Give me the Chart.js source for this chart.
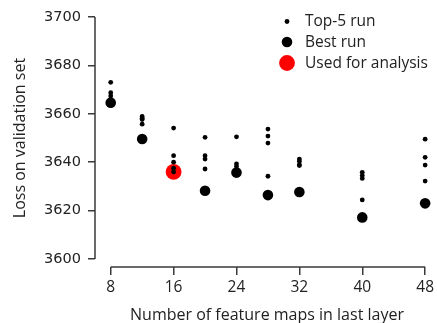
<!DOCTYPE html>
<html>
<head>
<meta charset="utf-8">
<script src="https://cdn.jsdelivr.net/npm/chart.js@4.4.1/dist/chart.umd.min.js"></script>
<style>
html,body{margin:0;padding:0;background:#fff;}
#wrap{width:437px;height:323px;}
</style>
</head>
<body>
<div id="wrap"><canvas id="c" width="437" height="323"></canvas></div>
<script>
// ---- data ----
const featureMaps = [8, 12, 16, 20, 24, 28, 32, 40, 48];
const top5Runs = [
  [3673.0, 3668.7, 3667.4, 3665.6, 3664.6],
  [3658.9, 3658.2, 3657.6, 3655.7, 3649.6],
  [3654.1, 3642.7, 3640.0, 3637.5, 3636.0],
  [3650.3, 3642.7, 3641.3, 3637.2, 3628.2],
  [3650.5, 3639.3, 3638.2, 3636.8, 3635.7],
  [3653.7, 3650.8, 3647.9, 3634.2, 3626.4],
  [3641.3, 3640.4, 3639.0, 3638.6, 3627.7],
  [3635.8, 3634.5, 3633.3, 3624.4, 3617.2],
  [3649.5, 3642.0, 3638.8, 3632.2, 3623.0]
];
const bestRun = [3664.6, 3649.6, null, 3628.2, 3635.7, 3626.4, 3627.7, 3617.2, 3623.0];
const usedMaps = [16];
const usedLoss = [3636.0];
const xTicks = [8, 16, 24, 32, 40, 48];
const yTicks = [3600, 3620, 3640, 3660, 3680, 3700];
const legendLabels = ['Top-5 run', 'Best run', 'Used for analysis'];
const xTitle = 'Number of feature maps in last layer';
const yTitle = 'Loss on validation set';

// ---- build datasets ----
const topPts = [];
featureMaps.forEach((f, i) => top5Runs[i].forEach(v => topPts.push({x: f, y: v})));
const bestPts = [];
featureMaps.forEach((f, i) => { if (bestRun[i] !== null) bestPts.push({x: f, y: bestRun[i]}); });
const usedPts = usedMaps.map((f, i) => ({x: f, y: usedLoss[i]}));

const axisColor = '#3a3a3a';
const textColor = '#222222';
const labelFont = '"Open Sans"';

const spines = {
  id: 'spines',
  afterDraw(chart) {
    const {ctx, scales: {x, y}} = chart;
    ctx.save();
    ctx.strokeStyle = axisColor;
    ctx.lineWidth = 1.5;
    ctx.beginPath();
    const xl = x.left;
    ctx.moveTo(xl, y.getPixelForValue(yTicks[yTicks.length - 1]));
    ctx.lineTo(xl, y.getPixelForValue(yTicks[0]));
    const yb = y.bottom;
    ctx.moveTo(x.getPixelForValue(xTicks[0]), yb);
    ctx.lineTo(x.getPixelForValue(xTicks[xTicks.length - 1]), yb);
    ctx.stroke();
    // axis titles
    ctx.fillStyle = textColor;
    ctx.font = '16px ' + labelFont;
    ctx.textAlign = 'center';
    ctx.textBaseline = 'alphabetic';
    ctx.fillText(xTitle, 267, 320);
    ctx.translate(25, 138);
    ctx.rotate(-Math.PI / 2);
    ctx.fillText(yTitle, 0, 0);
    ctx.restore();
  }
};

const legendPlugin = {
  id: 'customLegend',
  afterDraw(chart) {
    const ctx = chart.ctx;
    ctx.save();
    const rows = [21.5, 42, 63];
    const bases = [26, 47, 68];
    chart.data.datasets.forEach((ds, i) => {
      ctx.beginPath();
      ctx.fillStyle = ds.backgroundColor;
      ctx.arc(287, rows[i], ds.pointRadius, 0, Math.PI * 2);
      ctx.fill();
      ctx.fillStyle = textColor;
      ctx.font = '15.5px ' + labelFont;
      ctx.textBaseline = 'alphabetic';
      ctx.fillText(legendLabels[i], 305, bases[i]);
    });
    ctx.restore();
  }
};

new Chart(document.getElementById('c'), {
  type: 'scatter',
  data: {
    datasets: [
      {label: legendLabels[0], data: topPts, backgroundColor: '#000', borderWidth: 0, pointRadius: 2.4, pointHoverRadius: 2.4, clip: false},
      {label: legendLabels[1], data: bestPts, backgroundColor: '#000', borderWidth: 0, pointRadius: 5.3, pointHoverRadius: 5.3, clip: false},
      {label: legendLabels[2], data: usedPts, backgroundColor: '#ff0000', borderWidth: 0, pointRadius: 7.9, pointHoverRadius: 7.9, clip: false}
    ]
  },
  options: {
    responsive: false,
    animation: false,
    events: [],
    layout: {padding: {top: 17, right: 10, left: 0, bottom: 0}},
    plugins: {legend: {display: false}, tooltip: {enabled: false}},
    scales: {
      x: {
        type: 'linear',
        min: 6,
        max: 48,
        afterBuildTicks: s => { s.ticks = xTicks.map(v => ({value: v})); },
        afterFit: s => { s.height = 56; },
        ticks: {color: textColor, font: {family: 'Open Sans', size: 15.5}, padding: 3, maxRotation: 0, autoSkip: false, callback: v => String(v)},
        grid: {drawOnChartArea: false, drawTicks: true, tickLength: 8, color: axisColor, lineWidth: 1.5},
        border: {display: false}
      },
      y: {
        type: 'linear',
        min: 3596.7,
        max: 3700,
        afterBuildTicks: s => { s.ticks = yTicks.map(v => ({value: v})); },
        afterFit: s => { s.width = 95; },
        ticks: {color: textColor, font: {family: 'DejaVu Sans', size: 14.5}, padding: 7, autoSkip: false, callback: v => String(v)},
        grid: {drawOnChartArea: false, drawTicks: true, tickLength: 7, color: axisColor, lineWidth: 1.5},
        border: {display: false}
      }
    }
  },
  plugins: [spines, legendPlugin]
});
</script>
</body>
</html>
